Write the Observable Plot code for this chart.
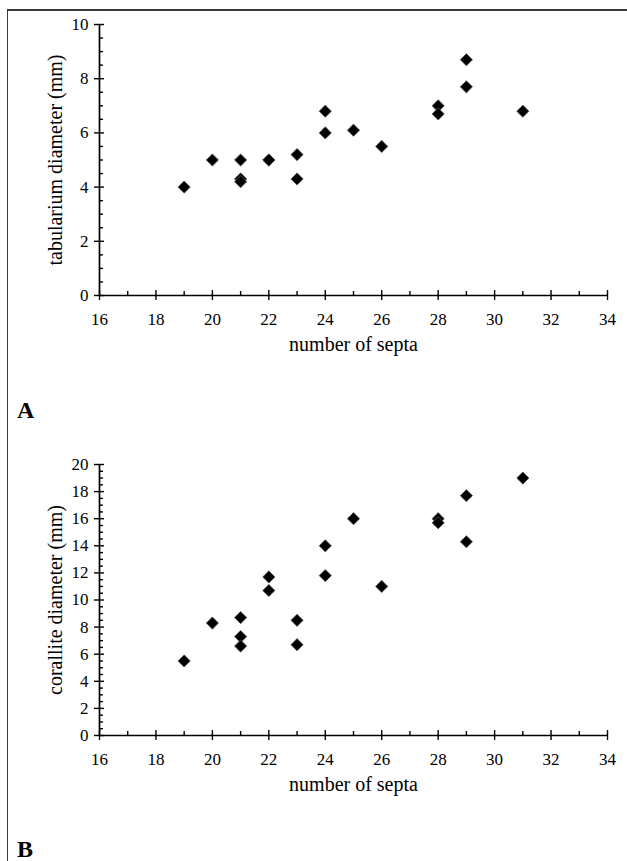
<!DOCTYPE html>
<html><head><meta charset="utf-8">
<script src="https://cdn.jsdelivr.net/npm/d3@7"></script>
<script src="https://cdn.jsdelivr.net/npm/@observablehq/plot@0.6"></script>
<style>
body{margin:0;background:#fff;}
#fig{position:relative;width:627px;height:861px;overflow:hidden;font-family:"Liberation Serif","Times New Roman",serif;background:#fff;}
#border{position:absolute;left:7px;top:9px;right:-5px;bottom:-5px;border-top:2px solid #3a3a3a;border-left:1.5px solid #3a3a3a;pointer-events:none;}
.panel{position:absolute;left:0;}
.panel svg text{font-family:"Liberation Serif","Times New Roman",serif;}
.letter{position:absolute;left:17px;font-weight:bold;font-size:24px;line-height:1;color:#000;}
</style></head><body>
<div id="fig">
<div class="panel" id="pA" style="top:0"></div>
<div class="panel" id="pB" style="top:440px"></div>
<div class="letter" style="top:398px">A</div>
<div class="letter" style="top:837px">B</div>
<div id="border"></div>
</div>
<script>
// Panel A: tabularium diameter vs number of septa
const septaA = [19, 20, 21, 21, 21, 22, 22, 23, 23, 24, 24, 25, 26, 28, 28, 29, 29, 31];
const tabularium = [4.0, 5.0, 5.0, 4.3, 4.2, 5.0, 5.0, 5.2, 4.3, 6.8, 6.0, 6.1, 5.5, 7.0, 6.7, 8.7, 7.7, 6.8];
// Panel B: corallite diameter vs number of septa
const septaB = [19, 20, 21, 21, 21, 22, 22, 23, 23, 24, 24, 25, 26, 28, 28, 29, 29, 31];
const corallite = [5.5, 8.3, 8.7, 7.3, 6.6, 11.7, 10.7, 8.5, 6.7, 14.0, 11.8, 16.0, 11.0, 16.0, 15.7, 17.7, 14.3, 19.0];

const xTitle = "number of septa";
const yTitleA = "tabularium diameter (mm)";
const yTitleB = "corallite diameter (mm)";
const xMajor = [16, 18, 20, 22, 24, 26, 28, 30, 32, 34];
const xMinor = [17, 19, 21, 23, 25, 27, 29, 31, 33];
const yMajorA = [0, 2, 4, 6, 8, 10];
const yMajorB = [0, 2, 4, 6, 8, 10, 12, 14, 16, 18, 20];
const yMinorA = d3.range(0, 10, 0.5).filter(v => v % 2 !== 0);
const yMinorB = d3.range(0, 20, 0.5).filter(v => v % 2 !== 0);

function panel(xs, ys, yDomain, yMajor, yMinor, yTitle) {
  const data = xs.map((x, i) => ({x, y: ys[i]}));
  return Plot.plot({
    width: 627, height: 380,
    marginLeft: 99, marginRight: 20, marginTop: 24, marginBottom: 85,
    style: "font-family: 'Liberation Serif','Times New Roman',serif; font-size: 17px; color: #000; background: transparent; overflow: visible;",
    x: {domain: [16, 34]},
    y: {domain: yDomain},
    marks: [
      Plot.axisX({ticks: xMajor, tickSize: 0, tickPadding: 17, tickFormat: d => String(d), label: null, fontSize: 17}),
      Plot.axisX({ticks: xMajor, tickSize: 10, dy: -5, tickFormat: () => "", label: null, strokeWidth: 1.4}),
      Plot.axisX({ticks: xMinor, tickSize: 4, dy: -4, tickFormat: () => "", label: null, strokeWidth: 1.4}),
      Plot.axisY({ticks: yMajor, tickSize: 0, tickPadding: 11, tickFormat: d => String(d), label: null, fontSize: 17}),
      Plot.axisY({ticks: yMajor, tickSize: 10, dx: 5, tickFormat: () => "", label: null, strokeWidth: 1.4}),
      Plot.axisY({ticks: yMinor, tickSize: 4, dx: 4, tickFormat: () => "", label: null, strokeWidth: 1.4}),
      Plot.ruleY([yDomain[0]], {stroke: "#000", strokeWidth: 1.7}),
      Plot.ruleX([16], {stroke: "#000", strokeWidth: 1.7}),
      Plot.dot(data, {x: "x", y: "y", symbol: "diamond2", r: 5.5, fill: "#000", stroke: "#555", strokeWidth: 0.8}),
      Plot.text([xTitle], {text: d => d, frameAnchor: "bottom", dy: 49, fontSize: 20, lineAnchor: "middle", textAnchor: "middle", fill: "#000"}),
      Plot.text([yTitle], {text: d => d, frameAnchor: "left", dx: -44, rotate: -90, fontSize: 20, lineAnchor: "middle", textAnchor: "middle", fill: "#000"})
    ]
  });
}

document.getElementById("pA").append(panel(septaA, tabularium, [0, 10], yMajorA, yMinorA, yTitleA));
document.getElementById("pB").append(panel(septaB, corallite, [0, 20], yMajorB, yMinorB, yTitleB));
</script>
</body></html>
